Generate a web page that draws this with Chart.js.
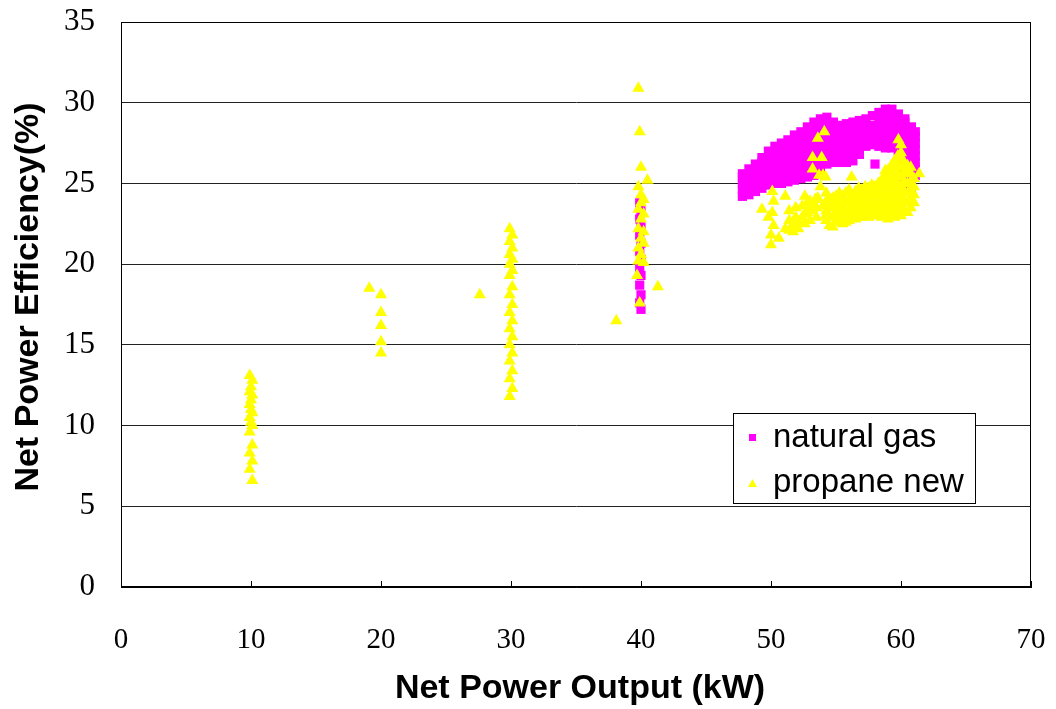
<!DOCTYPE html>
<html>
<head>
<meta charset="utf-8">
<script src="https://cdn.jsdelivr.net/npm/chart.js@4.4.1/dist/chart.umd.min.js"></script>
<style>
  html, body { margin: 0; padding: 0; background: #fff; }
  #wrap { width: 1056px; height: 709px; position: relative; }
</style>
</head>
<body>
<div id="wrap"><canvas id="chart"></canvas></div>
<script>
// ── Data ────────────────────────────────────────────────────────────── //
// natural gas: one x per column, list of efficiencies per column
var gasX = [39.9, 40.0, 47.8, 48.3, 48.8, 49.3, 49.8, 50.3, 50.8, 51.3, 51.8, 52.3, 52.8,
            53.3, 53.8, 54.3, 54.8, 55.3, 55.8, 56.3, 56.8, 57.3, 57.8, 58.0, 58.3,
            58.8, 59.3, 59.8, 60.3, 60.8, 61.1];
var gasY = [
  [23.8, 22.8, 21.8, 20.8, 19.8, 18.7, 17.6],
  [23.3, 22.3, 21.3, 20.3, 19.3, 18.1, 17.2],
  [24.2, 24.6, 25.0, 25.4, 25.6],
  [24.3, 24.7, 25.1, 25.5, 25.9],
  [24.5, 24.9, 25.3, 25.7, 26.2],
  [24.7, 25.1, 25.5, 25.9, 26.3, 26.6],
  [24.9, 25.3, 25.7, 26.1, 26.5, 27.0],
  [25.0, 25.4, 25.8, 26.2, 26.6, 27.0, 27.3],
  [25.0, 25.4, 25.8, 26.2, 26.6, 27.0, 27.5],
  [25.1, 25.5, 25.9, 26.3, 26.7, 27.1, 27.4, 27.7],
  [25.2, 25.6, 26.0, 26.4, 26.8, 27.2, 27.6, 28.0],
  [25.3, 25.7, 26.1, 26.5, 26.9, 27.3, 27.7, 28.2],
  [25.4, 25.8, 26.2, 26.6, 27.0, 27.4, 27.8, 28.2, 28.5],
  [25.5, 25.9, 26.3, 26.7, 27.1, 27.5, 27.9, 28.3, 28.8],
  [25.7, 26.1, 26.5, 26.9, 27.3, 27.7, 28.1, 28.5, 29.0],
  [26.2, 26.6, 27.0, 27.4, 27.8, 28.2, 28.6, 29.1],
  [26.3, 26.7, 27.1, 27.5, 27.9, 28.3, 28.8],
  [26.3, 26.7, 27.1, 27.5, 27.9, 28.3, 28.6],
  [26.3, 26.7, 27.1, 27.5, 27.9, 28.3, 28.7],
  [26.4, 26.8, 27.2, 27.6, 28.0, 28.4, 28.8],
  [26.8, 27.2, 27.6, 28.0, 28.4, 28.9],
  [27.3, 27.7, 28.1, 28.5, 29.0],
  [27.4, 27.8, 28.2, 28.6, 29.2],
  [26.2],
  [27.3, 27.7, 28.1, 28.5, 28.9, 29.4],
  [27.2, 27.6, 28.0, 28.4, 28.8, 29.2, 29.6],
  [27.2, 27.6, 28.0, 28.4, 28.8, 29.2, 29.6],
  [25.0, 25.4, 25.8, 26.2, 26.6, 27.0, 27.4, 27.8, 28.2, 28.6, 29.0, 29.3],
  [24.8, 25.2, 25.6, 26.0, 26.4, 26.8, 27.2, 27.6, 28.0, 28.4, 28.8, 29.0],
  [24.8, 25.2, 25.6, 26.0, 26.4, 26.8, 27.2, 27.6, 28.0, 28.5],
  [25.5, 25.9, 26.3, 26.7, 27.1, 27.5, 27.9, 28.2]
];

// propane new
var propX = [9.9, 10.0, 10.1, 19.1, 20.0, 27.6, 29.9, 30.1, 38.1, 39.7, 39.8, 39.9, 40.0,
             40.2, 40.5, 41.3, 49.3, 49.8, 50.0, 50.1, 50.2, 50.6, 51.1, 51.7, 52.1,
             52.4, 52.8, 53.2, 53.4, 53.6, 53.7, 53.8, 53.9, 54.0, 54.1, 54.2, 54.5,
             55.0, 55.5, 56.0, 56.2, 56.5, 57.0, 57.5, 58.0, 58.5, 58.8, 59.0, 59.5,
             59.8, 60.0, 60.5, 61.0, 61.4,
             51.4, 51.9, 52.6, 53.0, 53.5, 54.25, 54.75, 55.25, 55.75, 56.25, 56.75,
             57.25, 57.75, 58.25, 58.75, 59.25, 59.75, 60.25, 60.75];
var propY = [
  [13.1, 12.1, 11.3, 10.5, 9.6, 8.3, 7.3],
  [12.4, 11.6, 11.0, 10.2],
  [12.8, 11.9, 10.8, 10.0, 8.8, 7.8, 6.6],
  [18.5],
  [18.1, 17.0, 16.2, 15.2, 14.5],
  [18.1],
  [22.2, 21.4, 20.6, 20.0, 19.3, 18.1, 17.0, 16.0, 15.0, 14.0, 12.9, 11.8],
  [21.8, 21.0, 20.3, 19.6, 18.6, 17.5, 16.5, 15.5, 14.5, 13.4, 12.3],
  [16.5],
  [19.3],
  [30.9, 24.8, 23.4, 22.2, 21.0, 20.2],
  [28.2, 17.6],
  [26.0, 24.3, 23.8, 22.8, 21.6, 20.6],
  [24.0, 23.1, 22.0, 21.3, 20.1],
  [25.2],
  [18.6],
  [23.4],
  [22.9],
  [21.2, 21.8],
  [24.5, 23.2],
  [23.9, 22.4],
  [21.6],
  [24.2, 22.2],
  [22.0, 22.4],
  [22.2, 22.6],
  [22.9, 23.6],
  [23.2, 23.8],
  [23.4, 25.9, 26.6],
  [23.6, 24.0],
  [24.1, 27.8],
  [25.5],
  [24.8],
  [26.6],
  [23.6, 25.5],
  [28.2],
  [23.0, 25.4],
  [22.4, 23.0, 23.6, 24.0],
  [22.6, 23.2, 23.8, 24.2],
  [22.5, 23.0, 23.6, 24.2],
  [22.7, 23.3, 23.9, 24.6],
  [25.4],
  [22.8, 23.4, 24.0, 24.5],
  [22.9, 23.4, 24.0, 24.6],
  [22.9, 23.5, 24.1, 24.7],
  [23.0, 23.6, 24.2, 24.8],
  [22.9, 23.5, 24.1, 24.7, 25.2],
  [25.8],
  [22.8, 23.4, 24.0, 24.6, 25.2, 25.8],
  [22.9, 23.5, 24.1, 24.7, 25.3, 25.9, 26.4],
  [27.7],
  [23.0, 23.6, 24.2, 24.8, 25.4, 26.0, 26.6, 26.9, 27.4],
  [23.2, 23.8, 24.4, 25.0, 25.6, 26.1],
  [23.8, 24.3, 24.8, 25.3],
  [25.6],
  [22.1, 22.7, 23.3],
  [22.3, 22.9, 23.5],
  [22.5, 23.1, 24.2],
  [22.7, 23.3, 23.9],
  [22.9, 23.5],
  [22.7, 23.3, 23.9, 24.4],
  [22.3, 22.9, 23.5, 24.1],
  [22.8, 23.4, 24.0, 24.4],
  [22.6, 23.2, 23.8, 24.4],
  [23.0, 23.6, 24.2],
  [22.9, 23.2, 23.7, 24.3, 24.7],
  [23.1, 23.7, 24.3, 24.8],
  [23.0, 23.3, 23.8, 24.4, 24.9],
  [23.2, 23.8, 24.4, 25.0],
  [23.1, 23.7, 24.3, 24.9, 25.5],
  [23.1, 23.7, 24.3, 24.9, 25.5, 26.1],
  [23.2, 23.8, 24.4, 25.0, 25.6, 26.2, 26.7],
  [23.3, 23.9, 24.5, 25.1, 25.7, 26.3],
  [23.5, 24.1, 24.6, 25.1, 25.6, 26.0]
];

var xTicks = [0, 10, 20, 30, 40, 50, 60, 70];
var yTicks = [0, 5, 10, 15, 20, 25, 30, 35];
var seriesNames = ['natural gas', 'propane new'];
var xTitle = 'Net Power Output (kW)';
var yTitle = 'Net Power Efficiency(%)';

var MAGENTA = '#ff00ff';
var YELLOW  = '#ffff00';

function toPoints(xs, ys) {
  var pts = [];
  xs.forEach(function (x, i) {
    ys[i].forEach(function (y) { pts.push({ x: x, y: y }); });
  });
  return pts;
}

// ── Frame, inside ticks, titles and legend ─────────────────────────── //
var decorPlugin = {
  id: 'decor',
  afterDraw: function (chart) {
    var ctx = chart.ctx;
    var a = chart.chartArea;
    var xs = chart.scales.x;
    ctx.save();
    ctx.strokeStyle = '#000';
    ctx.lineWidth = 1;
    ctx.strokeRect(a.left + 0.5, a.top + 0.5, a.right - a.left - 1, a.bottom - a.top - 1);

    // x ticks pointing inward
    ctx.beginPath();
    xTicks.forEach(function (v) {
      var px = Math.round(xs.getPixelForValue(v)) + 0.5;
      ctx.moveTo(px, a.bottom);
      ctx.lineTo(px, a.bottom - 6);
    });
    ctx.stroke();

    // axis titles
    ctx.fillStyle = '#000';
    ctx.font = 'bold 34px "Liberation Sans", Arial, sans-serif';
    ctx.textAlign = 'center';
    ctx.textBaseline = 'middle';
    ctx.fillText(xTitle, 580, 689);
    ctx.save();
    ctx.translate(29, 297);
    ctx.rotate(-Math.PI / 2);
    ctx.fillText(yTitle, 0, 0);
    ctx.restore();

    // legend box inside the plot
    var bx = a.right - 298, by = 413, bw = 242, bh = 90;
    ctx.fillStyle = '#fff';
    ctx.fillRect(bx, by, bw, bh);
    ctx.strokeRect(bx + 0.5, by + 0.5, bw, bh);
    ctx.font = '33px "Liberation Sans", Arial, sans-serif';
    ctx.textAlign = 'left';
    ctx.fillStyle = MAGENTA;
    ctx.fillRect(bx + 16, by + 21, 7, 7);
    ctx.fillStyle = YELLOW;
    ctx.beginPath();
    ctx.moveTo(bx + 19.5, by + 66);
    ctx.lineTo(bx + 24, by + 74);
    ctx.lineTo(bx + 15, by + 74);
    ctx.closePath();
    ctx.fill();
    ctx.fillStyle = '#000';
    ctx.fillText(seriesNames[0], bx + 40, by + 25);
    ctx.fillText(seriesNames[1], bx + 40, by + 70);
    ctx.restore();
  }
};

new Chart(document.getElementById('chart').getContext('2d'), {
  type: 'scatter',
  data: {
    datasets: [
      {
        label: seriesNames[0],
        data: toPoints(gasX, gasY),
        pointStyle: 'rect',
        pointRadius: 6.5,
        backgroundColor: MAGENTA,
        borderColor: MAGENTA,
        borderWidth: 0,
        order: 1,
      },
      {
        label: seriesNames[1],
        data: toPoints(propX, propY),
        pointStyle: 'triangle',
        pointRadius: 7,
        backgroundColor: YELLOW,
        borderColor: YELLOW,
        borderWidth: 0,
        order: 0,
      },
    ],
  },
  options: {
    responsive: true,
    maintainAspectRatio: false,
    animation: false,
    events: [],
    layout: { padding: { top: 22, right: 25, left: 0, bottom: 0 } },
    plugins: { legend: { display: false }, tooltip: { enabled: false } },
    scales: {
      x: {
        type: 'linear',
        min: 0, max: 70,
        afterFit: function (s) {
          s.height = 122;
          s.paddingLeft = 0; s.paddingRight = 0;
        },
        afterBuildTicks: function (s) { s.ticks = xTicks.map(function (v) { return { value: v }; }); },
        grid: { display: false },
        border: { display: true, color: '#000', width: 1 },
        ticks: {
          padding: 28,
          color: '#000',
          font: { family: '"Liberation Serif", "Times New Roman", serif', size: 29 },
        },
      },
      y: {
        type: 'linear',
        min: 0, max: 35,
        afterFit: function (s) {
          s.width = 121;
          s.paddingTop = 0; s.paddingBottom = 0;
        },
        afterBuildTicks: function (s) { s.ticks = yTicks.map(function (v) { return { value: v }; }); },
        grid: { color: '#222', lineWidth: 1, drawTicks: false },
        border: { display: true, color: '#000', width: 1 },
        ticks: {
          padding: 26,
          color: '#000',
          font: { family: '"Liberation Serif", "Times New Roman", serif', size: 31 },
        },
      },
    },
  },
  plugins: [decorPlugin],
});
</script>
</body>
</html>
